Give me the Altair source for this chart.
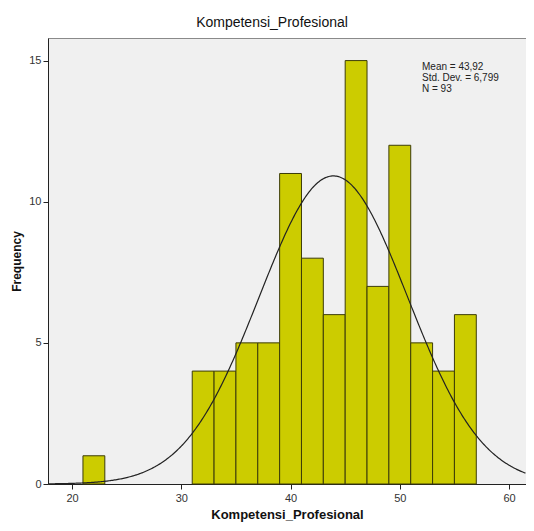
import altair as alt
import pandas as pd

# Histogram bins (width 2) and frequencies
bin_start = [21, 31, 33, 35, 37, 39, 41, 43, 45, 47, 49, 51, 53, 55]
counts = [1, 4, 4, 5, 5, 11, 8, 6, 15, 7, 12, 5, 4, 6]
BIN_WIDTH = 2
MEAN, SD, N = 43.92, 6.799, 93
stats_lines = ["Mean = 43,92", "Std. Dev. = 6,799", "N = 93"]
x_ticks = [20, 30, 40, 50, 60]
y_ticks = [0, 5, 10, 15]
X_DOMAIN = [17.8, 61.55]
Y_DOMAIN = [0, 15.8]

df = pd.DataFrame({
    "start": bin_start,
    "end": [s + BIN_WIDTH for s in bin_start],
    "count": counts,
})
stats_df = pd.DataFrame({"t": stats_lines, "i": list(range(len(stats_lines)))})

x_scale = alt.Scale(domain=X_DOMAIN, nice=False, zero=False)
y_scale = alt.Scale(domain=Y_DOMAIN, nice=False)

x_axis = alt.Axis(values=x_ticks, title="Kompetensi_Profesional", grid=False,
                  tickSize=5, labelPadding=3, titlePadding=5,
                  labelFont="Liberation Sans", labelFontSize=11, labelColor="#333333",
                  titleFont="Liberation Sans", titleFontSize=13, titleFontWeight="bold",
                  titleColor="#111111", domainColor="#222222", tickColor="#222222")
y_axis = alt.Axis(values=y_ticks, title="Frequency", grid=False,
                  tickSize=5, labelPadding=2, titlePadding=5,
                  labelFont="Liberation Sans", labelFontSize=11, labelColor="#333333",
                  titleFont="Liberation Sans", titleFontSize=12, titleFontWeight="bold",
                  titleColor="#111111", domainColor="#222222", tickColor="#222222")

bars = alt.Chart(df).mark_bar(color="#cccc00", stroke="#3c3c08", strokeWidth=1).encode(
    x=alt.X("start:Q", scale=x_scale, axis=x_axis),
    x2="end:Q",
    y=alt.Y("count:Q", scale=y_scale, axis=y_axis),
    y2=alt.datum(0),
)

curve = alt.Chart(alt.sequence(X_DOMAIN[0], X_DOMAIN[1] + 0.05, 0.1, as_="v")).transform_calculate(
    f=f"{N * BIN_WIDTH} / ({SD} * sqrt(2 * PI)) * exp(-0.5 * pow((datum.v - {MEAN}) / {SD}, 2))"
).mark_line(color="#222222", strokeWidth=1.2, clip=True).encode(
    x=alt.X("v:Q", scale=x_scale),
    y=alt.Y("f:Q", scale=y_scale),
)

stats = alt.Chart(stats_df).transform_calculate(
    py="29 + datum.i * 11"
).mark_text(align="left", baseline="middle", font="Liberation Sans", fontSize=10,
            color="#222222").encode(
    x=alt.value(374),
    y=alt.Y("py:Q", scale=None),
    text="t:N",
)

chart = alt.layer(bars, curve, stats).properties(
    width=478, height=446,
    title=alt.TitleParams("Kompetensi_Profesional", font="Liberation Sans", fontSize=14,
                          fontWeight="normal", color="#111111", anchor="middle",
                          dx=-15, offset=8),
    autosize=alt.AutoSizeParams(type="none"),
    padding={"left": 40, "top": 30, "right": 0, "bottom": 39},
).configure_view(fill="#f0f0f0", stroke="#8a8a8a", strokeWidth=1)

chart.save("out.html", embed_options={"renderer": "svg", "actions": False})
